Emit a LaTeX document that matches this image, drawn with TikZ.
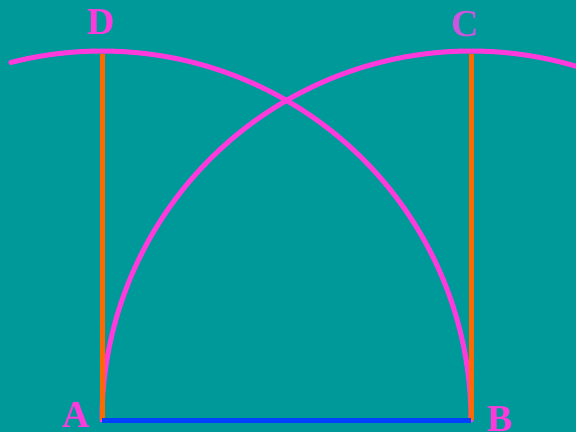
\documentclass[tikz,border=0pt]{standalone}
\usepackage{fontspec}
\setmainfont{Liberation Serif}
\definecolor{bg}{HTML}{009999}
\definecolor{mag}{HTML}{FF3ADD}
\definecolor{org}{HTML}{FF6A00}
\definecolor{blu}{HTML}{0040FF}
\definecolor{lilac}{HTML}{CC55DD}
\tikzset{
  arcline/.style={draw=mag, line width=5pt, line cap=round},
  sideline/.style={draw=org, line width=5pt},
  baseline/.style={draw=blu, line width=5pt},
  lbl/.style={font=\fontsize{38}{38}\selectfont\bfseries, text=mag, inner sep=0pt}
}
\begin{document}
\begin{tikzpicture}[x=1pt,y=-1pt]
\fill[bg] (0,0) rectangle (576,432);
\useasboundingbox (0,0) rectangle (576,432);
\coordinate (A) at (102,420);
\coordinate (B) at (471,420);
\coordinate (C) at (471,54);
\coordinate (D) at (102,54);
\begin{scope}
\clip (0,0) rectangle (576,432);
\draw[arcline] (B) arc[start angle=0, end angle=-104.3, radius=369];
\draw[arcline] (A) arc[start angle=-180, end angle=-72, radius=369];
\draw[sideline] (A) -- (D);
\draw[sideline] (B) -- (C);
\draw[baseline] (A) -- (B);
\end{scope}
\node[lbl] (lD) at (101,22) {D};
\node[lbl, text=lilac] (lC) at (465,24) {C};
\node[lbl] (lA) at (76,415) {A};
\node[lbl] (lB) at (500,419) {B};
\end{tikzpicture}
\end{document}
